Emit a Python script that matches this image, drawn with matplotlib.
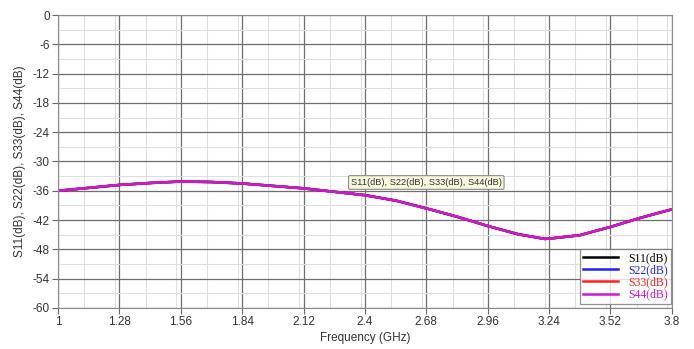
import matplotlib.pyplot as plt
from matplotlib.ticker import MultipleLocator

# all four ports overlap
freq = [1.00, 1.14, 1.28, 1.42, 1.56, 1.70, 1.84, 1.98, 2.12, 2.26, 2.40,
        2.54, 2.68, 2.82, 2.96, 3.10, 3.22, 3.24, 3.38, 3.52, 3.66, 3.80]
s_db = [-36.0, -35.4, -34.8, -34.4, -34.1, -34.2, -34.5, -35.0, -35.5, -36.2, -36.9,
        -38.0, -39.6, -41.3, -43.2, -44.9, -45.85, -45.8, -45.1, -43.4, -41.5, -39.8]

series = ["S11(dB)", "S22(dB)", "S33(dB)", "S44(dB)"]
colors = ["#000000", "#1f1fff", "#ff1f1f", "#cc19cc"]

xticks = [1, 1.28, 1.56, 1.84, 2.12, 2.4, 2.68, 2.96, 3.24, 3.52, 3.8]
xtick_labels = ["1", "1.28", "1.56", "1.84", "2.12", "2.4", "2.68", "2.96", "3.24", "3.52", "3.8"]
yticks = list(range(-60, 1, 6))

plt.rcParams['font.family'] = ['Liberation Sans', 'DejaVu Sans']
plt.rcParams['axes.unicode_minus'] = False

fig = plt.figure(figsize=(6.94, 3.49), dpi=100)
ax = fig.add_axes([0.0836, 0.1175, 0.8844, 0.8395])

for name, c in zip(series, colors):
    ax.plot(freq, s_db, color=c, lw=1.8, label=name)

ax.set_xlim(1, 3.8)
ax.set_ylim(-60, 0)
ax.set_xticks(xticks)
ax.set_xticklabels(xtick_labels)
ax.set_yticks(yticks)
ax.xaxis.set_minor_locator(MultipleLocator(0.14))
ax.yaxis.set_minor_locator(MultipleLocator(3))

ax.grid(which='major', color='#6e6e6e', lw=0.9)
ax.grid(which='minor', color='#dedede', lw=0.8)
ax.set_axisbelow(True)
for sp in ax.spines.values():
    sp.set_color('#8a8a8a')
    sp.set_linewidth(0.8)

ax.tick_params(which='major', length=4, width=0.8, color='#666666',
               labelsize=8.5, labelcolor='#333333', pad=2)
ax.tick_params(which='minor', length=0)

ax.set_xlabel("Frequency (GHz)", fontsize=8.5, color='#333333', labelpad=3)
ax.set_ylabel("S11(dB), S22(dB), S33(dB), S44(dB)", fontsize=8.5, color='#333333', labelpad=5)

ax.text(2.68, -34.3, "S11(dB), S22(dB), S33(dB), S44(dB)", fontsize=6.7, color='#333333',
        ha='center', va='center',
        bbox=dict(boxstyle='round,pad=0.25,rounding_size=0.15', fc='#fbf8dc', ec='#8a8a8a', lw=0.8))

leg = ax.legend(loc='lower right', prop={'family': 'Liberation Serif', 'size': 8.5},
                frameon=True, fancybox=False, edgecolor='#777777',
                handlelength=3.0, handletextpad=0.9, labelspacing=0.02,
                borderpad=0.25, borderaxespad=0.0)
leg.set_bbox_to_anchor((0.999, 0.015), transform=ax.transAxes)
leg.get_frame().set_linewidth(0.9)
for txt, c in zip(leg.get_texts(), colors):
    txt.set_color(c)

fig.savefig("out.png", dpi=100)
